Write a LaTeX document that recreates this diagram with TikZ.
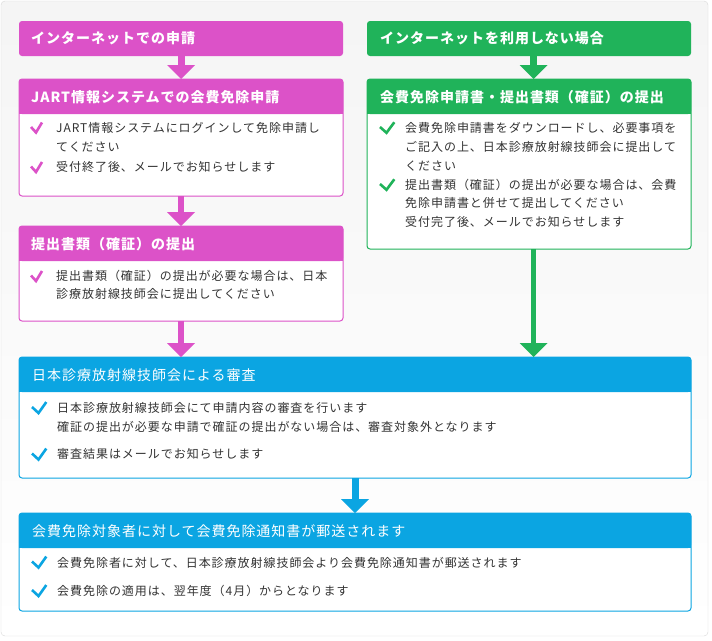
\documentclass[tikz,border=0pt]{standalone}
\usepackage{fontspec}
\setmainfont{Noto Sans CJK JP}
\newfontfamily\bodyf[LetterSpace=8]{Noto Sans CJK JP}
\newfontfamily\headf[LetterSpace=7]{Noto Sans CJK JP}
\usetikzlibrary{calc}
\definecolor{pk}{HTML}{DC52C8}
\definecolor{gn}{HTML}{20B35A}
\definecolor{bl}{HTML}{0BA5E2}
\definecolor{txt}{HTML}{333333}
\newcommand\flowbox[7]{% name, x1, y1, x2, y2, header bottom y, colour
  \draw[#7, fill=white, rounded corners=3pt, line width=1pt] (#2,#3) rectangle (#4,#5);
  \fill[#7, rounded corners=3pt] (#2,#3) rectangle (#4,#6);
  \fill[#7] (#2,#6-5) rectangle (#4,#6);
  \node[frame, minimum width={(#4-#2)*1pt}, minimum height={(#5-#3)*1pt}] (#1) at (#2,#3) {};
}
\newcommand\headbox[6]{% name, x1, y1, x2, y2, colour
  \fill[#6, rounded corners=3pt] (#2,#3) rectangle (#4,#5);
  \node[frame, minimum width={(#4-#2)*1pt}, minimum height={(#5-#3)*1pt}] (#1) at (#2,#3) {};
}
\begin{document}
\begin{tikzpicture}[x=1pt,y=-1pt,
  frame/.style={inner sep=0, outer sep=0, anchor=north west},
  body/.style={anchor=base west, inner sep=0, text=txt, font=\bodyf\fontsize{12}{14}\selectfont},
  head/.style={anchor=base west, inner sep=0, text=white, font=\headf\bfseries\fontsize{14}{16}\selectfont},
  headn/.style={anchor=base west, inner sep=0, text=white, font=\headf\fontsize{14}{16}\selectfont},
  chk/.pic={\draw[line width=2.6pt, line cap=butt, line join=miter] (0,0) -- (5,5.5) -- (11,-4.5);},
]
\useasboundingbox (0,0) rectangle (712,640);
\fill[white] (0,0) rectangle (712,640);
\shade[top color=gray!8, bottom color=white, rounded corners=4pt] (1,1) rectangle (708,636);
\draw[gray!30, rounded corners=4pt] (1,1) rectangle (708,636);

% ---------- pink column ----------
\headbox{p1}{19}{21}{343}{56}{pk}
\node[head] (p1t) at (31,43.5) {インターネットでの申請};

\flowbox{p2}{19}{79}{343}{196}{114}{pk}
\node[head] (p2t) at (31,102) {JART情報システムでの会費免除申請};
\pic[color=pk] at (31,127) {chk};
\node[body] (p2a) at (56,132) {JART情報システムにログインして免除申請し};
\node[body] (p2b) at (56,151.5) {てください};
\pic[color=pk] at (31,166.5) {chk};
\node[body] (p2c) at (56,171.5) {受付終了後、メールでお知らせします};

\flowbox{p3}{19}{226}{343}{321}{261}{pk}
\node[head] (p3t) at (31,249) {提出書類（確証）の提出};
\pic[color=pk] at (31,275.5) {chk};
\node[body] (p3a) at (56,280.5) {提出書類（確証）の提出が必要な場合は、日本};
\node[body] (p3b) at (56,298.5) {診療放射線技師会に提出してください};

% ---------- green column ----------
\headbox{g1}{367}{21}{691}{56}{gn}
\node[head] (g1t) at (380,43.5) {インターネットを利用しない場合};

\flowbox{g2}{367}{79}{691}{249}{114}{gn}
\node[head] (g2t) at (380,102) {会費免除申請書・提出書類（確証）の提出};
\pic[color=gn, xscale=1.3, yscale=1.05] at (380,127) {chk};
\node[body] (g2a) at (405,132) {会費免除申請書をダウンロードし、必要事項を};
\node[body] (g2b) at (405,151) {ご記入の上、日本診療放射線技師会に提出して};
\node[body] (g2c) at (405,170) {ください};
\pic[color=gn, xscale=1.3, yscale=1.05] at (380,184) {chk};
\node[body] (g2d) at (405,189) {提出書類（確証）の提出が必要な場合は、会費};
\node[body] (g2e) at (405,207.5) {免除申請書と併せて提出してください};
\node[body] (g2f) at (405,226.5) {受付完了後、メールでお知らせします};

% ---------- blue boxes ----------
\flowbox{b1}{19}{357}{691}{478}{392}{bl}
\node[headn] (b1t) at (32,380) {日本診療放射線技師会による審査};
\pic[color=bl, line width=2.3pt, xscale=1.3, yscale=1.1] at (32,407) {chk};
\node[body] (b1a) at (57,412.5) {日本診療放射線技師会にて申請内容の審査を行います};
\node[body] (b1b) at (57,431) {確証の提出が必要な申請で確証の提出がない場合は、審査対象外となります};
\pic[color=bl, xscale=1.3, yscale=1.1] at (32,453.5) {chk};
\node[body] (b1c) at (57,458.5) {審査結果はメールでお知らせします};

\flowbox{b2}{19}{513}{691}{611}{548}{bl}
\node[headn] (b2t) at (32,536) {会費免除対象者に対して会費免除通知書が郵送されます};
\pic[color=bl, xscale=1.3, yscale=1.1] at (32,561.5) {chk};
\node[body] (b2a) at (57,567) {会費免除者に対して、日本診療放射線技師会より会費免除通知書が郵送されます};
\pic[color=bl, xscale=1.3, yscale=1.1] at (32,590) {chk};
\node[body] (b2b) at (57,595.5) {会費免除の適用は、翌年度（4月）からとなります};

% ---------- connectors ----------
% pink
\draw[pk, line width=7pt] (p1.south) -- ($(p2.north)+(0,-14)$);
\fill[pk] (p2.north) -- ++(-14,-14) -- ++(28,0) -- cycle;
\draw[pk, line width=6pt] (p2.south) -- ($(p3.north)+(0,-14)$);
\fill[pk] (p3.north) -- ++(-14,-14) -- ++(28,0) -- cycle;
\coordinate (pt) at (p3.south |- b1.north);
\draw[pk, line width=6pt] (p3.south) -- ($(pt)+(0,-14)$);
\fill[pk] (pt) -- ++(-14,-14) -- ++(28,0) -- cycle;
% green
\coordinate (gs1) at ($(g1.south)+(4.5,0)$);
\coordinate (gt1) at (gs1 |- g2.north);
\draw[gn, line width=7pt] (gs1) -- ($(gt1)+(0,-14)$);
\fill[gn] (gt1) -- ++(-14,-14) -- ++(28,0) -- cycle;
\coordinate (gs2) at ($(g2.south)+(4.5,0)$);
\coordinate (gt2) at (gs2 |- b1.north);
\draw[gn, line width=5pt] (gs2) -- ($(gt2)+(0,-14)$);
\fill[gn] (gt2) -- ++(-14,-14) -- ++(28,0) -- cycle;
% blue
\draw[bl, line width=7pt] (b1.south) -- ($(b2.north)+(0,-14)$);
\fill[bl] (b2.north) -- ++(-14,-14) -- ++(28,0) -- cycle;
\end{tikzpicture}
\end{document}
